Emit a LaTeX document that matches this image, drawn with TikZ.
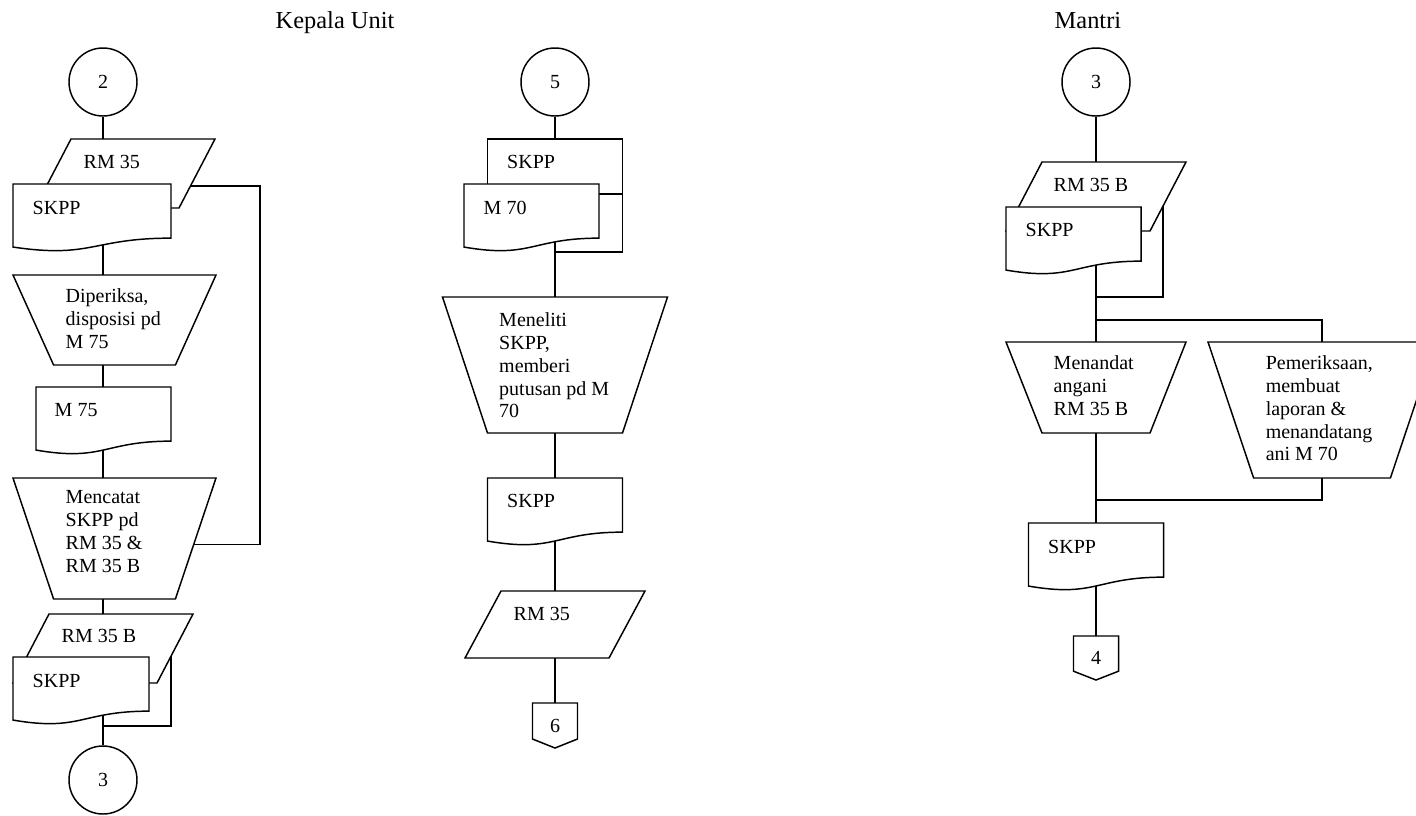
\documentclass[tikz,border=0pt]{standalone}
\usepackage{fontspec}
\setmainfont{Liberation Serif}
\usetikzlibrary{calc,backgrounds}
\newcommand{\txtfont}{\fontsize{15}{17.1}\selectfont}
\tikzset{
  shp/.style 2 args={draw=none, inner sep=0pt, outer sep=0pt, anchor=north west,
    minimum width=#1*0.75pt, minimum height=#2*0.75pt, font=\txtfont},
  docbox/.style 2 args={shp={#1}{#2}, append after command={\pgfextra{
    \filldraw[fill=white] (\tikzlastnode.north west) -- (\tikzlastnode.north east)
      -- ($(\tikzlastnode.north east)!0.802!(\tikzlastnode.south east)$)
      .. controls ($(\tikzlastnode.north)!0.802!(\tikzlastnode.south)$)
      and ($(\tikzlastnode.north)!1.1075!(\tikzlastnode.south)$)
      .. ($(\tikzlastnode.north west)!0.934!(\tikzlastnode.south west)$) -- cycle;}}},
  databox/.style 2 args={shp={#1}{#2}, append after command={\pgfextra{
    \filldraw[fill=white] ($(\tikzlastnode.north west)!0.2!(\tikzlastnode.north east)$)
      -- (\tikzlastnode.north east)
      -- ($(\tikzlastnode.south east)!0.2!(\tikzlastnode.south west)$)
      -- (\tikzlastnode.south west) -- cycle;}}},
  manbox/.style 2 args={shp={#1}{#2}, append after command={\pgfextra{
    \filldraw[fill=white] (\tikzlastnode.north west) -- (\tikzlastnode.north east)
      -- ($(\tikzlastnode.south east)!0.2!(\tikzlastnode.south west)$)
      -- ($(\tikzlastnode.south west)!0.2!(\tikzlastnode.south east)$) -- cycle;}}},
  offpg/.style 2 args={shp={#1}{#2}, append after command={\pgfextra{
    \draw (\tikzlastnode.north west) -- (\tikzlastnode.north east)
      -- ($(\tikzlastnode.north east)!0.8!(\tikzlastnode.south east)$)
      -- (\tikzlastnode.south)
      -- ($(\tikzlastnode.north west)!0.8!(\tikzlastnode.south west)$) -- cycle;}}},
  cardbox/.style 2 args={shp={#1}{#2}, draw, fill=white},
  conn/.style={circle, draw, fill=white, minimum size=68*0.75pt, inner sep=0pt, font=\txtfont},
  lbl/.style={inner sep=0pt, anchor=north west, align=left, font=\txtfont,
    execute at begin node=\strut},
  hdr/.style={inner sep=0pt, anchor=base west, font=\fontsize{18.3}{21}\selectfont},
  wire/.style={line width=1.1pt}
}
\begin{document}
\begin{tikzpicture}[x=0.75pt, y=-0.75pt, line width=1.1pt]
\useasboundingbox (0,0) rectangle (1416,815);
\clip (0,0) rectangle (1416,815);

\node[hdr] (hku) at (275,28) {Kepala Unit};
\node[hdr] (hmt) at (1054,28) {Mantri};

% Kepala Unit
\node[conn] (c2) at (103,82) {2};
\node[databox={180}{69}] (p1) at (35,139) {};
\node[lbl] (p1t) at ([shift={(48,13)}]p1.north west) {RM 35};
\node[docbox={158}{67.5}] (d1) at (13,184) {};
\node[lbl] (d1t) at ([shift={(19,14)}]d1.north west) {SKPP};
\node[manbox={203}{90}] (m1) at (13,275) {};
\node[lbl] (m1t) at ([shift={(52,13)}]m1.north west) {Diperiksa,\\disposisi pd\\M 75};
\node[docbox={135}{67.5}] (d2) at (36,387) {};
\node[lbl] (d2t) at ([shift={(18,13)}]d2.north west) {M 75};
\node[manbox={203}{121}] (m2) at (13,478) {};
\node[lbl] (m2t) at ([shift={(52,12)}]m2.north west) {Mencatat\\SKPP pd\\RM 35 \&\\RM 35 B};
\node[databox={180}{69}] (p2) at (13,614) {};
\node[lbl] (p2t) at ([shift={(48,12)}]p2.north west) {RM 35 B};
\node[docbox={136}{67.5}] (d3) at (13,657) {};
\node[lbl] (d3t) at ([shift={(19,14)}]d3.north west) {SKPP};
\node[conn] (c3a) at (103,780) {3};

% Kepala Unit, kolom tengah
\node[conn] (c5) at (555,82) {5};
\node[cardbox={135}{55}] (r1) at (487.5,139) {};
\node[lbl] (r1t) at ([shift={(19,13)}]r1.north west) {SKPP};
\node[docbox={135}{67.5}] (d4) at (464,184) {};
\node[lbl] (d4t) at ([shift={(19,14)}]d4.north west) {M 70};
\node[manbox={225}{136}] (m3) at (442.5,297) {};
\node[lbl] (m3t) at ([shift={(56,15)}]m3.north west) {Meneliti\\SKPP,\\memberi\\putusan pd M\\70};
\node[docbox={135}{67.5}] (d5) at (487.5,478) {};
\node[lbl] (d5t) at ([shift={(19,13)}]d5.north west) {SKPP};
\node[databox={180}{67}] (p3) at (465,591) {};
\node[lbl] (p3t) at ([shift={(48,13)}]p3.north west) {RM 35};
\node[offpg={45}{45}] (o6) at (532.5,703) {6};

% Mantri
\node[conn] (c3b) at (1096,82) {3};
\node[databox={180}{69}] (p4) at (1006,162) {};
\node[lbl] (p4t) at ([shift={(47,13)}]p4.north west) {RM 35 B};
\node[docbox={135}{67.5}] (d6) at (1006,207) {};
\node[lbl] (d6t) at ([shift={(19,13)}]d6.north west) {SKPP};
\node[manbox={180}{91}] (m4) at (1006,342) {};
\node[lbl] (m4t) at ([shift={(47,13)}]m4.north west) {Menandat\\angani\\RM 35 B};
\node[manbox={228}{136}] (m5) at (1208,342) {};
\node[lbl] (m5t) at ([shift={(57,13)}]m5.north west) {Pemeriksaan,\\membuat\\laporan \&\\menandatang\\ani M 70};
\node[docbox={135}{67.5}] (d7) at (1028.5,523) {};
\node[lbl] (d7t) at ([shift={(19,14)}]d7.north west) {SKPP};
\node[offpg={45}{44}] (o4) at (1073.5,636) {4};

% garis penghubung
\coordinate (tl) at (103,0);
\coordinate (lp) at (260,360);
\coordinate (bl) at (171,726);
\coordinate (bm) at (555,252);
\coordinate (br) at (1163,297);
\coordinate (sp) at (1096,320);
\coordinate (jn) at (1096,500);
\begin{scope}[on background layer]
  \draw[wire] (c2.south) -- (c2.south |- p1.north);
  \draw[wire] (d1.center -| tl) -- (m1.north -| tl);
  \draw[wire] (m1.south -| tl) -- (d2.north -| tl);
  \draw[wire] (d2.center -| tl) -- (m2.north -| tl);
  \draw[wire] (m2.south -| tl) -- (p2.north -| tl);
  \draw[wire] (d3.center -| tl) -- (c3a.north);
  \draw[wire] ($(m2.north)!0.55!(m2.south)$) -| (lp) |- ($(p1.north)!0.68!(p1.south)$);
  \draw[wire] (p2.north -| bl) -- (bl) -- (bl -| tl);

  \draw[wire] (c5.south) -- (c5.south |- r1.north);
  \draw[wire] (r1.north east) |- (bm);
  \draw[wire] (m3.north |- d4.center) -- (m3.north);
  \draw[wire] (m3.south) -- (m3.south |- d5.north);
  \draw[wire] (d5.center) -- (d5.center |- p3.north);
  \draw[wire] (o6.north |- p3.center) -- (o6.north);

  \draw[wire] (c3b.south) -- (c3b.south |- p4.north);
  \draw[wire] (p4.north -| br) -- (br) -- (br -| sp);
  \draw[wire] (sp |- d6.center) -- (sp |- m4.north);
  \draw[wire] (sp) -| (m5.north);
  \draw[wire] (m5.south) |- (jn);
  \draw[wire] (sp |- m4.south) -- (sp |- d7.north);
  \draw[wire] (o4.north |- d7.center) -- (o4.north);
\end{scope}
\end{tikzpicture}
\end{document}
